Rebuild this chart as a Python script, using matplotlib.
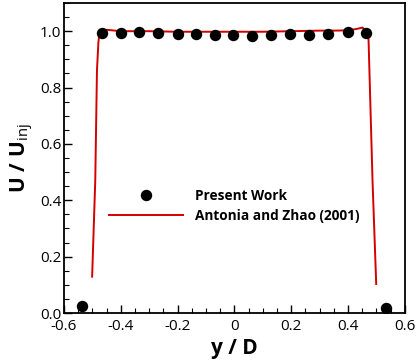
import numpy as np
import matplotlib
matplotlib.use("Agg")
import matplotlib.pyplot as plt
from matplotlib.ticker import MultipleLocator

plt.rcParams['font.family'] = ['Open Sans', 'DejaVu Sans']
plt.rcParams['mathtext.fontset'] = 'custom'
plt.rcParams['mathtext.rm'] = 'Open Sans'
plt.rcParams['mathtext.bf'] = 'Open Sans:bold'
plt.rcParams['mathtext.it'] = 'Open Sans:italic'

# Present Work (symbols)
y_present = [-0.535, -0.468, -0.401, -0.335, -0.268, -0.2, -0.134, -0.07, -0.005,
             0.062, 0.13, 0.197, 0.264, 0.331, 0.398, 0.464, 0.532]
u_present = [0.026, 0.992, 0.995, 0.998, 0.995, 0.989, 0.99, 0.988, 0.986,
             0.982, 0.987, 0.99, 0.988, 0.99, 0.996, 0.995, 0.019]

# Antonia and Zhao (2001) (line)
y_antonia = [-0.501, -0.49, -0.484, -0.479, -0.475, -0.465, -0.45, -0.4, -0.3, -0.2,
             -0.1, 0.0, 0.1, 0.2, 0.3, 0.35, 0.4, 0.43, 0.451, 0.468, 0.472, 0.486, 0.499]
u_antonia = [0.129, 0.47, 0.86, 0.96, 0.995, 1.003, 1.005, 1.0, 1.0, 0.998,
             0.998, 0.998, 0.998, 1.0, 1.002, 1.002, 1.003, 1.008, 1.013, 0.99, 0.97, 0.47, 0.103]

fig = plt.figure(figsize=(4.17, 3.63), dpi=100)
ax = fig.add_axes([0.1535, 0.1377, 0.8175, 0.854])

ax.plot(y_present, u_present, 'o', color='black', markersize=7.2, label='Present Work', zorder=3)
ax.plot(y_antonia, u_antonia, '-', color='#d40000', linewidth=1.4, label='Antonia and Zhao (2001)', zorder=2)

ax.set_xlim(-0.6, 0.6)
ax.set_ylim(0, 1.1)
ax.xaxis.set_major_locator(MultipleLocator(0.2))
ax.xaxis.set_minor_locator(MultipleLocator(0.05))
ax.yaxis.set_major_locator(MultipleLocator(0.2))
ax.yaxis.set_minor_locator(MultipleLocator(0.05))
ax.set_xticks([-0.6, -0.4, -0.2, 0, 0.2, 0.4, 0.6])
ax.set_xticklabels(['-0.6', '-0.4', '-0.2', '0', '0.2', '0.4', '0.6'])
ax.tick_params(which='both', direction='in', top=False, right=False, labelsize=11)
ax.tick_params(axis='x', pad=4)
ax.tick_params(axis='y', pad=2)
ax.tick_params(which='major', length=5.8, width=1)
ax.tick_params(which='minor', length=3.6, width=0.8)
for s in ax.spines.values():
    s.set_linewidth(1.3)

ax.set_xlabel('y / D', fontsize=15, fontweight='bold', labelpad=3)
ax.set_ylabel(r'$\mathbf{U\ /\ U}_{\mathrm{inj}}$', fontsize=15, labelpad=3)

ax.legend(loc='center left', bbox_to_anchor=(0.132, 0.345), frameon=False,
          prop={'weight': 'bold', 'size': 9.8}, handlelength=5.4, handletextpad=0.9,
          borderpad=0, borderaxespad=0, labelspacing=0.45)

fig.savefig('out.png', dpi=100)
